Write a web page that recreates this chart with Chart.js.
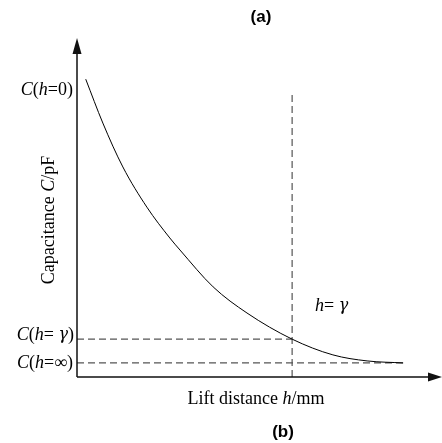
<!DOCTYPE html>
<html>
<head>
<meta charset="utf-8">
<script src="https://cdn.jsdelivr.net/npm/chart.js@4.4.1/dist/chart.umd.min.js"></script>
<style>
  html, body { margin: 0; padding: 0; background: #ffffff; }
  #wrap { width: 442px; height: 443px; }
</style>
</head>
<body>
<div id="wrap"><canvas id="cap-chart" width="442" height="443"></canvas></div>
<script>
// curve (h in axis units, C in axis units)
const liftH = [0.24, 0.71, 1.26, 1.92, 2.55, 2.83, 3.74, 4.67, 5.91, 7.03, 7.97, 8.96];
const capC  = [8.89, 7.58, 6.27, 5.07, 4.15, 3.79, 2.69, 1.91, 1.13, 0.66, 0.48, 0.42];

const hGamma = 5.91;     // h = gamma
const cGamma = 1.13;     // C(h = gamma)
const cInf = 0.42;       // C(h = inf)
const cZero = 8.89;      // C(h = 0)
const guideTop = 8.42;   // top of the vertical dashed guide
const hEnd = 8.96;       // end of curve

const SERIF = '"Liberation Serif", "Times New Roman", serif';
const GREEK = '"DejaVu Serif", serif';

// draws text made of normal/italic runs (g = greek glyph)
function runFont(r, size) {
  if (r.g) return 'italic ' + (size - 2) + 'px ' + GREEK;
  return (r.i ? 'italic ' : '') + size + 'px ' + SERIF;
}
function drawRuns(ctx, runs, x, y, align, size) {
  let total = 0;
  runs.forEach(r => {
    ctx.font = runFont(r, size);
    r.w = ctx.measureText(r.t).width;
    total += r.w;
  });
  let cx = x;
  if (align === 'right') cx = x - total;
  if (align === 'center') cx = x - total / 2;
  ctx.textAlign = 'left';
  ctx.textBaseline = 'middle';
  runs.forEach(r => {
    ctx.font = runFont(r, size);
    ctx.fillText(r.t, cx, y);
    cx += r.w;
  });
}

const sketchPlugin = {
  id: 'sketch',
  afterDraw(chart) {
    const ctx = chart.ctx;
    const xs = chart.scales.x, ys = chart.scales.y;
    const x0 = xs.getPixelForValue(0), y0 = ys.getPixelForValue(0);
    ctx.save();
    ctx.setTransform(1, 0, 0, 1, 0, 0);
    ctx.strokeStyle = '#111';
    ctx.fillStyle = '#111';
    ctx.lineWidth = 1.5;
    // axes
    ctx.beginPath();
    ctx.moveTo(x0, y0);
    ctx.lineTo(x0, 52);
    ctx.moveTo(x0, y0);
    ctx.lineTo(430, y0);
    ctx.stroke();
    // arrow heads
    ctx.beginPath();
    ctx.moveTo(x0, 38);
    ctx.lineTo(x0 - 4.5, 54);
    ctx.lineTo(x0 + 4.5, 54);
    ctx.closePath();
    ctx.fill();
    ctx.beginPath();
    ctx.moveTo(442, y0);
    ctx.lineTo(428, y0 - 4.5);
    ctx.lineTo(428, y0 + 4.5);
    ctx.closePath();
    ctx.fill();

    // value labels on the y axis
    ctx.fillStyle = '#000';
    drawRuns(ctx, [{t: 'C', i: true}, {t: '(', i: false}, {t: 'h', i: true}, {t: '=0)', i: false}],
      73, ys.getPixelForValue(cZero) + 11, 'right', 18);
    drawRuns(ctx, [{t: 'C', i: true}, {t: '(', i: false}, {t: 'h', i: true}, {t: '= ', i: false}, {t: 'γ', g: true}, {t: ')', i: false}],
      74, ys.getPixelForValue(cGamma) - 4, 'right', 18);
    drawRuns(ctx, [{t: 'C', i: true}, {t: '(', i: false}, {t: 'h', i: true}, {t: '=∞)', i: false}],
      73, ys.getPixelForValue(cInf), 'right', 18);

    // h = gamma label
    drawRuns(ctx, [{t: 'h', i: true}, {t: '= ', i: false}, {t: 'γ', g: true}],
      xs.getPixelForValue(hGamma) + 23, 306, 'left', 18);

    // axis title along x
    drawRuns(ctx, [{t: 'Lift distance ', i: false}, {t: 'h', i: true}, {t: '/mm', i: false}],
      256, 399, 'center', 18);

    // panel labels
    ctx.font = 'bold 17px "Liberation Sans", Arial, sans-serif';
    ctx.textAlign = 'center';
    ctx.textBaseline = 'middle';
    ctx.fillText('(a)', 261, 17);
    ctx.fillText('(b)', 283, 432);

    // rotated axis title along y
    ctx.setTransform(0, -1, 1, 0, 49, 220);
    drawRuns(ctx, [{t: 'Capacitance ', i: false}, {t: 'C', i: true}, {t: '/pF', i: false}],
      0, 0, 'center', 18);
    ctx.setTransform(1, 0, 0, 1, 0, 0);
    ctx.restore();
  }
};

const dashStyle = {
  showLine: true,
  borderColor: '#555',
  borderWidth: 1.2,
  borderDash: [7, 4],
  pointRadius: 0,
  clip: false
};

new Chart(document.getElementById('cap-chart').getContext('2d'), {
  type: 'scatter',
  data: {
    datasets: [
      {
        data: liftH.map((h, i) => ({x: h, y: capC[i]})),
        showLine: true,
        borderColor: '#000',
        borderWidth: 1,
        pointRadius: 0,
        cubicInterpolationMode: 'monotone',
        clip: false
      },
      Object.assign({data: [{x: hGamma, y: 0}, {x: hGamma, y: guideTop}]}, dashStyle),
      Object.assign({data: [{x: 0, y: cGamma}, {x: hGamma, y: cGamma}]}, dashStyle),
      Object.assign({data: [{x: 0, y: cInf}, {x: hEnd, y: cInf}]}, dashStyle)
    ]
  },
  options: {
    responsive: false,
    animation: false,
    devicePixelRatio: 1,
    layout: { padding: { left: 77, right: 1, top: 42, bottom: 66 } },
    plugins: {
      legend: { display: false },
      tooltip: { enabled: false }
    },
    scales: {
      x: { type: 'linear', min: 0, max: 10, display: false },
      y: { type: 'linear', min: 0, max: 10, display: false }
    }
  },
  plugins: [sketchPlugin]
});
</script>
</body>
</html>
